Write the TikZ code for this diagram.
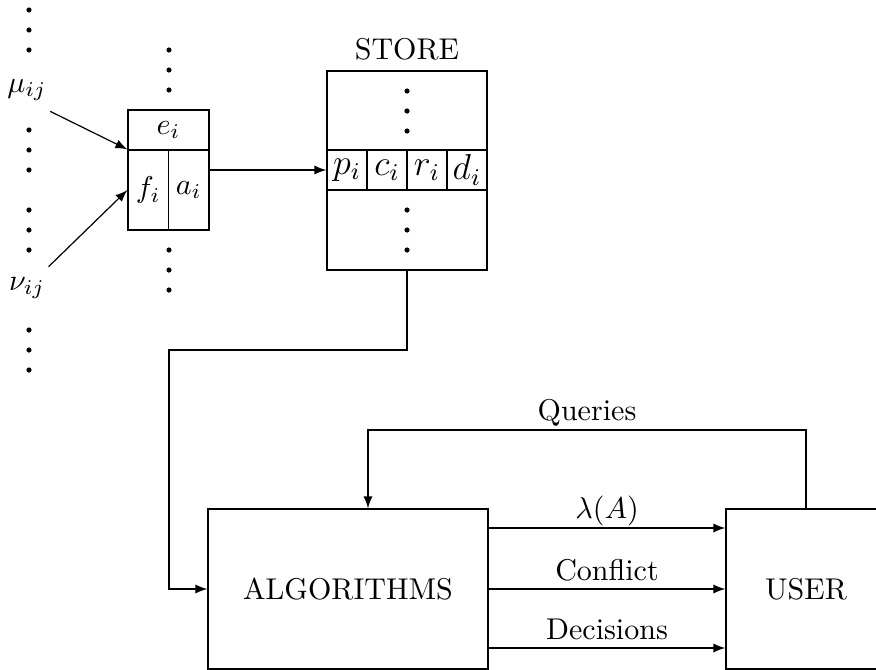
\documentclass[tikz,border=0pt]{standalone}
\usepackage{amsmath}
\usepackage{amssymb}
\usetikzlibrary{arrows, arrows.meta}
\usetikzlibrary{calc}
\newcommand{\px}{0.333pt}

\begin{document}
\begin{tikzpicture}[x=0.333pt, y=-0.333pt, >=latex,
    cell/.style={draw, inner sep=0pt, minimum width=40*\px, minimum height=40*\px},
    bigbox/.style={draw, inner sep=0pt, minimum width=280*\px, minimum height=160*\px},
    lbl/.style={anchor=base, yshift=2.7pt}]
    \path[use as bounding box, clip] (0,0) rectangle (876,669);

    % dots
    \foreach \y in {10,30,50,130,150,170,210,230,250,330,350,370}
        \fill (29,\y) circle[radius=2.6];
    \foreach \y in {50,70,90,250,270,290}
        \fill (169,\y) circle[radius=2.6];
    \foreach \y in {91,111,131,210,230,250}
        \fill (407,\y) circle[radius=2.6];

    \node (mu) at (27,90) {$\mu_{ij}$};
    \node (nu) at (27,288) {$\nu_{ij}$};

    % element box
    \node[cell, minimum width=81*\px] (e) at (168.5,130) {$e_i$};
    \node[cell, minimum width=40.5*\px, minimum height=80*\px] (f) at (148.25,190) {$f_i$};
    \node[cell, minimum width=40.5*\px, minimum height=80*\px] (a) at (188.75,190) {$a_i$};

    % store
    \node[cell, minimum width=160*\px, minimum height=79*\px] (stop) at (407,110.5) {};
    \node[cell, font=\large] (p) at (347,170) {$p_i$};
    \node[cell, font=\large] (c) at (387,170) {$c_i$};
    \node[cell, font=\large] (r) at (427,170) {$r_i$};
    \node[cell, font=\large] (d) at (467,170) {$d_i$};
    \node[cell, minimum width=160*\px, minimum height=80*\px] (sbot) at (407,230) {};
    \node[above] (store) at (stop.north) {STORE};

    \node[bigbox] (alg) at (348,589) {ALGORITHMS};
    \node[bigbox, minimum width=160*\px] (user) at (806,589) {USER};

    \coordinate (turn) at (169,350);
    \coordinate (qin) at ([xshift=20*\px]alg.north);
    \coordinate (qleft) at (368,430);

    \draw[->] ([xshift=-7*\px]mu.south east) -- (f.north west);
    \draw[->] ([xshift=-7*\px]nu.north east) -- (f.west);
    \draw[->] (a.east |- p.west) -- (p.west);
    \draw[->] (sbot.south) |- (turn) |- (alg.west);
    \draw[->] ([yshift=61*\px]alg.east) -- node[lbl, yshift=0.6pt] {$\lambda(A)$} ([yshift=61*\px]user.west);
    \draw[->] (alg.east) -- node[lbl] {Conflict} (user.west);
    \draw[->] ([yshift=-59*\px]alg.east) -- node[lbl] {Decisions} ([yshift=-59*\px]user.west);
    \draw[->] (user.north) |- node[lbl, pos=0.75, yshift=0.6pt] {Queries} (qleft) -- (qin);
\end{tikzpicture}
\end{document}
